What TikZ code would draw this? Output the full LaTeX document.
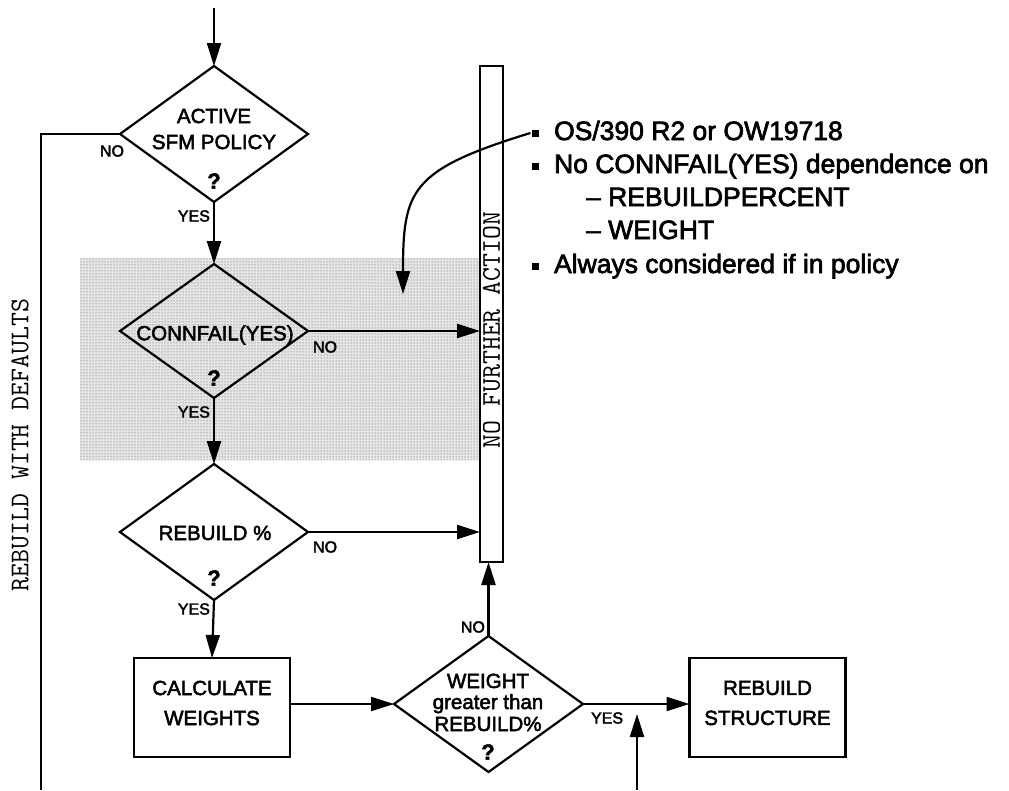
\documentclass[tikz,border=0pt]{standalone}
\usepackage{fontspec}
\setmainfont{Liberation Sans}[FakeBold=2.5]
\newfontfamily\plainsans{Liberation Sans}[FakeBold=2.5]
\usetikzlibrary{arrows.meta,shapes.geometric,patterns}

\begin{document}
\begin{tikzpicture}[x=1pt,y=-1pt,line width=2.2pt,
  arr/.style={-{Triangle[length=23pt,width=14pt]}},
  decision/.style={draw,shape=diamond,inner sep=0pt,outer sep=0pt,
    minimum width=188pt,minimum height=136pt},
  process/.style={draw,rectangle,inner sep=0pt,outer sep=0pt,
    minimum width=156pt,minimum height=99pt},
  lbl/.style={font=\plainsans\fontsize{20.5}{22}\selectfont,align=center,inner sep=0pt},
  boxtxt/.style={font=\plainsans\fontsize{20.5}{30}\selectfont,align=center,inner sep=0pt},
  qmark/.style={font=\bfseries\fontsize{22}{22}\selectfont,inner sep=0pt},
  yn/.style={font=\plainsans\fontsize{16}{16}\selectfont,inner sep=0pt},
  vtxt/.style={font=\ttfamily\fontsize{27}{27}\selectfont,rotate=90,inner sep=0pt},
  note/.style={font=\plainsans\fontsize{26.5}{26.5}\selectfont,anchor=base west,inner sep=0pt},
  sq/.style={fill=black,inner sep=0pt,minimum size=7pt}]

\useasboundingbox (0,0) rectangle (1009,790);

% stippled band behind the CONNFAIL test
\fill[black!10] (80,258) rectangle (479,460);
\fill[pattern=dots,pattern color=black!70] (80,258) rectangle (479,460);

% decisions
\node[decision] (d1) at (214,134) {};
\node[lbl] at (214,116) {ACTIVE};
\node[lbl] at (214,142) {SFM POLICY};
\node[qmark] at (214,181) {?};

\node[decision,minimum height=134pt] (d2) at (214,331) {};
\node[lbl] at (215,335) {CONNFAIL(YES)};
\node[qmark] at (214,378) {?};

\node[decision] (d3) at (214,532) {};
\node[lbl] at (215,533) {REBUILD \%};
\node[qmark] at (214,578) {?};

\node[decision,minimum width=189pt] (d4) at (488.5,704) {};
\node[lbl,anchor=base] at (488,688) {WEIGHT};
\node[lbl,anchor=base] at (488,709) {greater than};
\node[lbl,anchor=base] at (488,731) {REBUILD\%};
\node[qmark] at (488,752) {?};

% process boxes
\node[process] (calc) at (212,707.5) {};
\node[boxtxt] at (212,703) {CALCULATE\\WEIGHTS};
\node[process] (rs) at (767.5,707.5) {};
\node[boxtxt] at (767.5,703) {REBUILD\\STRUCTURE};

% terminal bar
\node[draw,fill=white,inner sep=0pt,outer sep=0pt,minimum width=23pt,
  minimum height=496pt] (nfa) at (491.5,314) {};
\node[vtxt] at (491.5,330) {NO FURTHER ACTION};

% loop-back text
\node[vtxt] (rwd) at (20,445) {REBUILD WITH DEFAULTS};

% free ends
\coordinate (start) at (214,8);
\coordinate (lb) at (41,790);
\coordinate (bin) at (637,790);
\coordinate (bintip) at (637,714);

% connectors
\draw[arr] (start) -- (d1.north);
\draw (d1.west) -| (lb);
\draw[arr] (d1.south) -- (d2.north);
\draw[arr] (d2.east) -- (d2.east -| nfa.west);
\draw[arr] (d2.south) -- (d3.north);
\draw[arr] (d3.east) -- (d3.east -| nfa.west);
\draw[arr] (d3.south) -- (calc.north);
\draw[arr] (d4.west -| calc.east) -- (d4.west);
\draw[arr] (d4.north) -- (d4.north |- nfa.south);
\draw[arr] (d4.east) -- (d4.east -| rs.west);
\draw[arr] (bin) -- (bintip);

% branch labels
\node[yn] at (112,151) {NO};
\node[yn,anchor=east] at (211,216) {YES};
\node[yn,anchor=west] at (312,347) {NO};
\node[yn,anchor=east] at (211,412) {YES};
\node[yn,anchor=west] at (312,547) {NO};
\node[yn,anchor=east] at (211,609) {YES};
\node[yn,anchor=east] at (486,627) {NO};
\node[yn,anchor=west] at (590,718) {YES};

% notes
\node[sq] (b1) at (535,133) {};
\node[note] at (553,140) {OS/390 R2 or OW19718};
\node[sq] (b2) at (535,166) {};
\node[note] at (553,173) {No CONNFAIL(YES) dependence on};
\node[note] at (585,206) {\textendash\ REBUILDPERCENT};
\node[note] at (585,239) {\textendash\ WEIGHT};
\node[sq] (b3) at (535,266) {};
\node[note] at (553,273) {Always considered if in policy};

% pointer from the first note
\draw[arr] (b1.west) .. controls (410,170) and (403,190) .. (403,294);
\end{tikzpicture}
\end{document}
